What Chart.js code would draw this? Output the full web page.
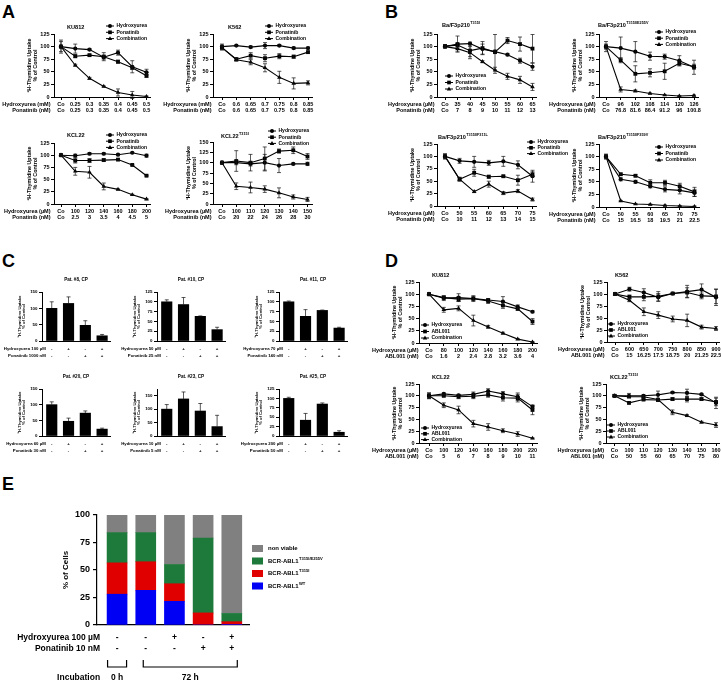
<!DOCTYPE html>
<html>
<head>
<meta charset="utf-8">
<script src="https://cdn.jsdelivr.net/npm/chart.js@4.4.0/dist/chart.umd.min.js"></script>
<style>
  html, body { margin: 0; padding: 0; background: #fff; overflow: hidden; }
  body { position: relative; width: 721px; height: 683px; }
  canvas { position: absolute; }
  .panel { position: absolute; font: bold 18px "Liberation Sans", Arial, sans-serif; line-height: 18px; }
</style>
</head>
<body>
<div class="panel" style="left:2px;top:3px">A</div>
<div class="panel" style="left:385px;top:3px">B</div>
<div class="panel" style="left:2px;top:252px">C</div>
<div class="panel" style="left:385px;top:252px">D</div>
<div class="panel" style="left:2px;top:475px">E</div>
<script>
// ---- A: hydroxyurea + ponatinib, cell lines
const a1Dose1 = ['Co', '0.25', '0.3', '0.35', '0.4', '0.45', '0.5'];
const a1Dose2 = ['Co', '0.25', '0.3', '0.35', '0.4', '0.45', '0.5'];
const a1Hu = [100, 96, 94, 79, 88, 60, 49];
const a1HuErr = [13, 9, 2, 4, 5, 12, 6];
const a1Pon = [100, 81, 83, 80, 70, 58, 42];
const a1PonErr = [10, 3, 2, 8, 3, 3, 3];
const a1Comb = [100, 63, 37, 21, 9, 4, 1];
const a1CombErr = [3, 2, 2, 1, 7, 7, 1];

const a2Dose1 = ['Co', '0.6', '0.65', '0.7', '0.75', '0.8', '0.85'];
const a2Dose2 = ['Co', '0.6', '0.65', '0.7', '0.75', '0.8', '0.85'];
const a2Hu = [100, 102, 99, 102, 102, 97, 97];
const a2HuErr = [5, 1, 2, 6, 2, 2, 2];
const a2Pon = [98, 75, 82, 77, 81, 80, 89];
const a2PonErr = [5, 3, 6, 7, 5, 3, 2];
const a2Comb = [98, 74, 69, 58, 39, 27, 28];
const a2CombErr = [3, 3, 5, 8, 12, 11, 4];

const a3Dose1 = ['Co', '100', '120', '140', '160', '180', '200'];
const a3Dose2 = ['Co', '2.5', '3', '3.5', '4', '4.5', '5'];
const a3Hu = [100, 99, 103, 103, 101, 105, 99];
const a3HuErr = [2, 3, 2, 2, 2, 1, 3];
const a3Pon = [100, 89, 89, 90, 91, 80, 58];
const a3PonErr = [2, 5, 4, 3, 2, 1, 1];
const a3Comb = [100, 67, 65, 36, 30, 19, 10];
const a3CombErr = [2, 8, 12, 7, 1, 1, 1];

const a4Dose1 = ['Co', '100', '110', '120', '130', '140', '150'];
const a4Dose2 = ['Co', '20', '22', '24', '26', '28', '30'];
const a4Hu = [100, 100, 97, 100, 93, 97, 97];
const a4HuErr = [3, 5, 5, 20, 17, 2, 4];
const a4Pon = [100, 104, 100, 110, 128, 130, 115];
const a4PonErr = [3, 25, 20, 28, 5, 8, 7];
const a4Comb = [100, 43, 40, 36, 27, 17, 11];
const a4CombErr = [3, 8, 13, 8, 12, 5, 5];

// ---- B: Ba/F3 mutants
const b1Dose1 = ['Co', '35', '40', '45', '50', '55', '60', '65'];
const b1Dose2 = ['Co', '7', '8', '9', '10', '11', '12', '13'];
const b1Hu = [100, 105, 106, 95, 90, 84, 72, 60];
const b1HuErr = [3, 16, 3, 10, 3, 2, 5, 7];
const b1Pon = [101, 103, 92, 97, 89, 112, 105, 96];
const b1PonErr = [3, 5, 12, 13, 35, 6, 14, 28];
const b1Comb = [100, 96, 88, 70, 53, 41, 34, 20];
const b1CombErr = [3, 5, 12, 2, 6, 6, 7, 7];

const b2Dose1 = ['Co', '96', '102', '108', '114', '120', '126'];
const b2Dose2 = ['Co', '76.8', '81.6', '86.4', '91.2', '96', '100.8'];
const b2Hu = [100, 97, 90, 81, 80, 72, 59];
const b2HuErr = [10, 22, 20, 8, 5, 10, 14];
const b2Pon = [100, 73, 46, 48, 51, 67, 60];
const b2PonErr = [5, 5, 16, 8, 16, 5, 5];
const b2Comb = [100, 15, 12, 7, 4, 2, 3];
const b2CombErr = [3, 5, 2, 1, 1, 1, 1];

const b3Dose1 = ['Co', '50', '55', '60', '65', '70', '75'];
const b3Dose2 = ['Co', '10', '11', '12', '13', '14', '15'];
const b3Hu = [100, 91, 89, 87, 90, 83, 60];
const b3HuErr = [5, 5, 11, 5, 10, 8, 12];
const b3Pon = [100, 54, 67, 59, 60, 52, 64];
const b3PonErr = [5, 4, 7, 3, 2, 10, 5];
const b3Comb = [100, 54, 29, 44, 26, 30, 13];
const b3CombErr = [3, 3, 2, 6, 3, 3, 3];

const b4Dose1 = ['Co', '50', '55', '60', '65', '70', '75'];
const b4Dose2 = ['Co', '15', '16.5', '18', '19.5', '21', '22.5'];
const b4Hu = [100, 55, 50, 41, 35, 33, 28];
const b4HuErr = [4, 3, 3, 3, 5, 7, 7];
const b4Pon = [100, 65, 62, 48, 48, 41, 30];
const b4PonErr = [5, 2, 2, 6, 5, 6, 9];
const b4Comb = [100, 12, 6, 5, 3, 2, 1];
const b4CombErr = [2, 1, 1, 1, 1, 1, 1];

// ---- C: patient cells, bars (-/-, +/-, -/+, +/+)
const cHuSign = ['-', '+', '-', '+'];
const cPonSign = ['-', '-', '+', '+'];
const c1Vals = [100, 115, 48, 16];
const c1Err = [20, 20, 14, 4];
const c2Vals = [100, 93, 63, 29];
const c2Err = [5, 18, 1, 6];
const c3Vals = [100, 63, 78, 33];
const c3Err = [2, 17, 1, 2];
const c4Vals = [100, 47, 73, 22];
const c4Err = [9, 10, 7, 3];
const c5Vals = [100, 138, 93, 35];
const c5Err = [17, 26, 28, 42];
const c6Vals = [100, 42, 85, 10];
const c6Err = [3, 18, 3, 4];

// ---- D: hydroxyurea + ABL001
const d1Dose1 = ['Co', '80', '100', '120', '140', '160', '180', '200'];
const d1Dose2 = ['Co', '1.6', '2', '2.4', '2.8', '3.2', '3.6', '4'];
const d1Hu = [100, 92, 93, 91, 88, 85, 74, 64];
const d1HuErr = [3, 5, 8, 6, 3, 10, 4, 2];
const d1Abl = [100, 93, 90, 91, 86, 77, 70, 44];
const d1AblErr = [2, 3, 5, 4, 5, 6, 3, 6];
const d1Comb = [100, 68, 71, 46, 33, 20, 8, 2];
const d1CombErr = [2, 5, 5, 11, 3, 2, 1, 1];

const d2Dose1 = ['Co', '600', '650', '700', '750', '800', '850', '900'];
const d2Dose2 = ['Co', '15', '16.25', '17.5', '18.75', '20', '21.25', '22.5'];
const d2Hu = [100, 110, 103, 93, 101, 105, 109, 93];
const d2HuErr = [2, 4, 8, 8, 2, 13, 12, 17];
const d2Abl = [100, 94, 94, 95, 101, 103, 96, 95];
const d2AblErr = [2, 4, 8, 10, 2, 10, 6, 15];
const d2Comb = [100, 87, 63, 56, 48, 45, 31, 28];
const d2CombErr = [2, 3, 8, 7, 6, 13, 4, 4];

const d3Dose1 = ['Co', '100', '120', '140', '160', '180', '200', '220'];
const d3Dose2 = ['Co', '5', '6', '7', '8', '9', '10', '11'];
const d3Hu = [100, 104, 101, 103, 110, 104, 98, 77];
const d3HuErr = [6, 2, 2, 5, 5, 5, 8, 3];
const d3Abl = [100, 100, 98, 99, 102, 96, 95, 70];
const d3AblErr = [6, 2, 4, 5, 5, 7, 8, 10];
const d3Comb = [100, 80, 70, 41, 34, 26, 19, 10];
const d3CombErr = [4, 5, 8, 7, 7, 4, 5, 1];

const d4Dose1 = ['Co', '100', '110', '120', '130', '140', '150', '160'];
const d4Dose2 = ['Co', '50', '55', '60', '65', '70', '75', '80'];
const d4Hu = [100, 100, 100, 102, 107, 106, 103, 85];
const d4HuErr = [2, 5, 2, 8, 2, 8, 2, 12];
const d4Abl = [100, 85, 92, 91, 93, 93, 93, 87];
const d4AblErr = [2, 2, 2, 3, 3, 6, 3, 8];
const d4Comb = [100, 98, 98, 92, 65, 58, 44, 38];
const d4CombErr = [2, 2, 2, 3, 5, 2, 2, 5];

// ---- E: clone composition, % of cells
const eHuSign = ['-', '-', '+', '-', '+'];
const ePonSign = ['-', '-', '-', '+', '+'];
const eWT = [28, 31.5, 21.5, 0, 0.5];
const eT315I = [28.5, 26, 16, 11, 2.5];
const eE255V = [27.5, 26.5, 17.5, 68, 7.5];
const eNonViable = [16, 16, 45, 21, 89.5];

const FONT = '"Liberation Sans", Arial, sans-serif';
const f = (size, lh) => ({ family: FONT, size: size, weight: 'bold', lineHeight: lh || 1.2 });
Chart.defaults.color = '#000';
Chart.defaults.font.family = FONT;

function makeCanvas(l, t, r, b, pad) {
  const c = document.createElement('canvas');
  const w = Math.round(r - l + pad[0] + pad[2]), h = Math.round(b - t + pad[1] + pad[3]);
  c.width = w; c.height = h;
  c.style.width = w + 'px'; c.style.height = h + 'px';
  c.style.left = (l - pad[0]) + 'px';
  c.style.top = (t - pad[1]) + 'px';
  document.body.appendChild(c);
  return c;
}

function textSup(ctx, x, y, main, sup, size, align) {
  const big = 'bold ' + size + 'px ' + FONT;
  const small = 'bold ' + (size * 0.68).toFixed(2) + 'px ' + FONT;
  ctx.font = big;
  const w1 = ctx.measureText(main).width;
  ctx.font = small;
  const w2 = sup ? ctx.measureText(sup).width : 0;
  let x0 = x;
  if (align === 'center') x0 = x - (w1 + w2) / 2;
  if (align === 'right') x0 = x - w1 - w2;
  ctx.textAlign = 'left';
  ctx.textBaseline = 'middle';
  ctx.font = big;
  ctx.fillText(main, x0, y);
  if (sup) {
    ctx.font = small;
    ctx.fillText(sup, x0 + w1 + 0.3, y - size * 0.38);
  }
}

function drawShape(ctx, shape, x, y, r) {
  ctx.beginPath();
  if (shape === 'circle') ctx.arc(x, y, r, 0, Math.PI * 2);
  else if (shape === 'rect') ctx.rect(x - r * 0.72, y - r * 0.72, r * 1.44, r * 1.44);
  else { ctx.moveTo(x, y - r); ctx.lineTo(x + r * 0.9, y + r * 0.6); ctx.lineTo(x - r * 0.9, y + r * 0.6); ctx.closePath(); }
  ctx.fill();
}

// vertical error bars read from the dataset values
function errorBars(errs, upOnly) {
  return {
    id: 'errbars',
    afterDatasetsDraw(chart) {
      const ctx = chart.ctx, ys = chart.scales.y;
      ctx.save();
      ctx.strokeStyle = '#111';
      ctx.lineWidth = 0.7;
      chart.data.datasets.forEach((ds, i) => {
        const meta = chart.getDatasetMeta(i);
        ds.data.forEach((p, j) => {
          const e = errs[i][j];
          if (!e) return;
          const x = meta.data[j].x;
          const y1 = ys.getPixelForValue(p.y + e);
          const y2 = upOnly ? ys.getPixelForValue(p.y) : ys.getPixelForValue(p.y - e);
          ctx.beginPath();
          ctx.moveTo(x, y1); ctx.lineTo(x, y2);
          ctx.moveTo(x - 2, y1); ctx.lineTo(x + 2, y1);
          if (!upOnly) { ctx.moveTo(x - 2, y2); ctx.lineTo(x + 2, y2); }
          ctx.stroke();
        });
      });
      ctx.restore();
    }
  };
}

const shapes = ['circle', 'rect', 'triangle'];
const radii = [2.1, 2.7, 2.6];

function lineChart(o) {
  const [l, t, r, b] = o.box;
  const pad = [80, 26, 50, 22];
  const yW = 28, xH = 18;
  const canvas = makeCanvas(l, t, r, b, pad);
  const ox = l - pad[0], oy = t - pad[1];
  const n = o.rows[0].length;
  const unit = (o.xN - o.x0) / (n - 1);
  const datasets = o.sets.map((s, i) => ({
    label: o.names[i],
    data: s.map((v, j) => ({ x: j, y: v })),
    borderColor: '#000',
    borderWidth: 1.1,
    pointStyle: shapes[i],
    pointRadius: radii[i],
    pointBackgroundColor: '#000',
    pointBorderColor: '#000',
    pointBorderWidth: 0,
    tension: 0,
    clip: false
  }));
  const overlay = {
    id: 'overlay',
    afterDraw(chart) {
      const ctx = chart.ctx, area = chart.chartArea;
      ctx.save();
      ctx.fillStyle = '#000';
      ctx.strokeStyle = '#000';
      textSup(ctx, o.title[2] - ox, o.title[3] - oy, o.title[0], o.title[1], 5.6, 'left');
      ctx.font = 'bold 5.5px ' + FONT;
      ctx.textAlign = 'right';
      ctx.textBaseline = 'middle';
      const rx = chart.scales.x.getPixelForValue(0) - 10.5;
      o.rowNames.forEach((name, i) => ctx.fillText(name, rx, area.bottom + 7.3 + i * 6.6));
      const [lx, ly, step] = o.legend;
      o.names.forEach((name, i) => {
        const x = lx - ox, y = ly + i * step - oy;
        ctx.lineWidth = 1;
        ctx.beginPath(); ctx.moveTo(x, y); ctx.lineTo(x + 8, y); ctx.stroke();
        drawShape(ctx, shapes[i], x + 4, y, radii[i] * 0.95);
        ctx.font = 'bold 5px ' + FONT;
        ctx.textAlign = 'left';
        ctx.fillText(name, x + 10.5, y);
      });
      ctx.restore();
    }
  };
  new Chart(canvas, {
    type: 'line',
    data: { datasets: datasets },
    options: {
      responsive: false,
      animation: false,
      devicePixelRatio: 1,
      layout: { autoPadding: false, padding: { left: pad[0] - yW, top: pad[1], right: pad[2], bottom: pad[3] - xH } },
      plugins: { legend: { display: false }, tooltip: { enabled: false } },
      scales: {
        x: {
          type: 'linear',
          offset: false,
          min: -(o.x0 - l) / unit,
          max: n - 1 + (r - o.xN) / unit,
          afterBuildTicks: s => { s.ticks = o.rows[0].map((_, i) => ({ value: i })); },
          afterFit: s => { s.height = xH; },
          ticks: { autoSkip: false, maxRotation: 0, padding: 1, font: f(5.5), callback: v => [o.rows[0][v], o.rows[1][v]] },
          grid: { drawOnChartArea: false, drawTicks: true, tickLength: 3, color: '#000', lineWidth: 1 },
          border: { color: '#000', width: 1 }
        },
        y: {
          min: 0,
          max: o.yMax,
          afterFit: s => { s.width = yW; },
          ticks: { stepSize: 25, padding: 1.5, font: f(5.5) },
          grid: { drawOnChartArea: false, drawTicks: true, tickLength: 3, color: '#000', lineWidth: 1 },
          border: { color: '#000', width: 1 },
          title: { display: true, text: ['\u00b3H-Thymidine Uptake', '% of Control'], font: f(5.4, 1.15), padding: 0 }
        }
      }
    },
    plugins: [errorBars(o.errs, false), overlay]
  });
}

function barChart(o) {
  const [l, t, r, b] = o.box;
  const pad = [62, 18, 6, 22];
  const yW = 25, xH = 18;
  const canvas = makeCanvas(l, t, r, b, pad);
  const overlay = {
    id: 'overlay',
    afterDraw(chart) {
      const ctx = chart.ctx, area = chart.chartArea;
      ctx.save();
      ctx.fillStyle = '#000';
      textSup(ctx, (area.left + area.right) / 2, area.top - 12, o.title, '', 4.6, 'center');
      ctx.font = 'bold 4.3px ' + FONT;
      ctx.textAlign = 'right';
      ctx.textBaseline = 'middle';
      const rx = chart.scales.x.getPixelForValue(0) - 6;
      o.rowNames.forEach((name, i) => ctx.fillText(name, rx, area.bottom + 7.8 + i * 6.6));
      ctx.restore();
    }
  };
  new Chart(canvas, {
    type: 'bar',
    data: { datasets: [{ data: o.vals.map((v, j) => ({ x: j, y: v })), backgroundColor: '#000', barThickness: 10.5 }] },
    options: {
      responsive: false,
      animation: false,
      devicePixelRatio: 1,
      layout: { autoPadding: false, padding: { left: pad[0] - yW, top: pad[1], right: pad[2], bottom: pad[3] - xH } },
      plugins: { legend: { display: false }, tooltip: { enabled: false } },
      scales: {
        x: {
          type: 'linear',
          offset: false,
          min: -0.58,
          max: 3.47,
          afterBuildTicks: s => { s.ticks = o.vals.map((_, i) => ({ value: i })); },
          afterFit: s => { s.height = xH; },
          ticks: { autoSkip: false, maxRotation: 0, padding: 4.5, font: f(4.4, 1.5), callback: v => [cHuSign[v], cPonSign[v]] },
          grid: { display: false, drawTicks: false },
          border: { color: '#000', width: 1 }
        },
        y: {
          min: 0,
          max: o.yMax,
          afterFit: s => { s.width = yW; },
          ticks: { stepSize: 25, padding: 1.5, font: f(4.4) },
          grid: { drawOnChartArea: false, drawTicks: true, tickLength: 3, color: '#000', lineWidth: 1 },
          border: { color: '#000', width: 1 },
          title: { display: true, text: ['\u00b3H-Thymidine Uptake', '% of Control'], font: f(4.2, 1.15), padding: 0 }
        }
      }
    },
    plugins: [errorBars([o.err], true), overlay]
  });
}

const huPon = ['Hydroxyurea', 'Ponatinib', 'Combination'];
const huAbl = ['Hydroxyurea', 'ABL001', 'Combination'];

// A
lineChart({ box: [54, 34, 150, 97], x0: 61, xN: 146.5, yMax: 125, rows: [a1Dose1, a1Dose2], rowNames: ['Hydroxyurea (mM)', 'Ponatinib (nM)'], names: huPon,
  sets: [a1Hu, a1Pon, a1Comb], errs: [a1HuErr, a1PonErr, a1CombErr], title: ['KU812', '', 67, 27], legend: [106, 26, 6.3] });
lineChart({ box: [213, 34, 312, 97], x0: 222, xN: 308, yMax: 125, rows: [a2Dose1, a2Dose2], rowNames: ['Hydroxyurea (mM)', 'Ponatinib (nM)'], names: huPon,
  sets: [a2Hu, a2Pon, a2Comb], errs: [a2HuErr, a2PonErr, a2CombErr], title: ['K562', '', 228, 27], legend: [265, 26, 6.3] });
lineChart({ box: [54, 143, 150, 204], x0: 61, xN: 146.5, yMax: 125, rows: [a3Dose1, a3Dose2], rowNames: ['Hydroxyurea (\u00b5M)', 'Ponatinib (nM)'], names: huPon,
  sets: [a3Hu, a3Pon, a3Comb], errs: [a3HuErr, a3PonErr, a3CombErr], title: ['KCL22', '', 67, 135], legend: [106, 135, 6.2] });
lineChart({ box: [213, 142, 312, 204], x0: 222, xN: 307.5, yMax: 150, rows: [a4Dose1, a4Dose2], rowNames: ['Hydroxyurea (\u00b5M)', 'Ponatinib (nM)'], names: huPon,
  sets: [a4Hu, a4Pon, a4Comb], errs: [a4HuErr, a4PonErr, a4CombErr], title: ['KCL22', 'T315I', 221, 136], legend: [268, 131, 6.2] });

// B
lineChart({ box: [437, 34, 536, 97], x0: 445, xN: 532.5, yMax: 125, rows: [b1Dose1, b1Dose2], rowNames: ['Hydroxyurea (\u00b5M)', 'Ponatinib (nM)'], names: huPon,
  sets: [b1Hu, b1Pon, b1Comb], errs: [b1HuErr, b1PonErr, b1CombErr], title: ['Ba/F3p210', 'T315I', 442, 25], legend: [445, 76, 6.5] });
lineChart({ box: [599, 34, 698, 97], x0: 606, xN: 694, yMax: 125, rows: [b2Dose1, b2Dose2], rowNames: ['Hydroxyurea (\u00b5M)', 'Ponatinib (nM)'], names: huPon,
  sets: [b2Hu, b2Pon, b2Comb], errs: [b2HuErr, b2PonErr, b2CombErr], title: ['Ba/F3p210', 'T315I/E255V', 598, 25], legend: [655, 32, 6.2] });
lineChart({ box: [437, 144, 536, 206], x0: 445, xN: 532.5, yMax: 125, rows: [b3Dose1, b3Dose2], rowNames: ['Hydroxyurea (\u00b5M)', 'Ponatinib (nM)'], names: huPon,
  sets: [b3Hu, b3Pon, b3Comb], errs: [b3HuErr, b3PonErr, b3CombErr], title: ['Ba/F3p210', 'T315I/F311L', 438, 137], legend: [527, 142, 5.8] });
lineChart({ box: [599, 144, 699, 207], x0: 606, xN: 694.5, yMax: 125, rows: [b4Dose1, b4Dose2], rowNames: ['Hydroxyurea (\u00b5M)', 'Ponatinib (nM)'], names: huPon,
  sets: [b4Hu, b4Pon, b4Comb], errs: [b4HuErr, b4PonErr, b4CombErr], title: ['Ba/F3p210', 'T315I/F359V', 598, 137], legend: [655, 147, 6.5] });

// C
barChart({ box: [42, 292, 110, 341], yMax: 150, vals: c1Vals, err: c1Err, title: 'Pat. #8, CP', rowNames: ['Hydroxyurea 100 \u00b5M', 'Ponatinib 1000 nM'] });
barChart({ box: [157, 292, 225, 341], yMax: 125, vals: c2Vals, err: c2Err, title: 'Pat. #10, CP', rowNames: ['Hydroxyurea 50 \u00b5M', 'Ponatinib 25 nM'] });
barChart({ box: [279, 292, 347, 341], yMax: 125, vals: c3Vals, err: c3Err, title: 'Pat. #11, CP', rowNames: ['Hydroxyurea 70 \u00b5M', 'Ponatinib 140 nM'] });
barChart({ box: [42, 389, 110, 436], yMax: 150, vals: c4Vals, err: c4Err, title: 'Pat. #20, CP', rowNames: ['Hydroxyurea 60 \u00b5M', 'Ponatinib 30 nM'] });
barChart({ box: [157, 389, 225, 436], yMax: 175, vals: c5Vals, err: c5Err, title: 'Pat. #23, CP', rowNames: ['Hydroxyurea 10 \u00b5M', 'Ponatinib 5 nM'] });
barChart({ box: [279, 389, 347, 436], yMax: 125, vals: c6Vals, err: c6Err, title: 'Pat. #25, CP', rowNames: ['Hydroxyurea 200 \u00b5M', 'Ponatinib 50 nM'] });

// D
lineChart({ box: [419, 282, 537, 342.5], x0: 429, xN: 532.5, yMax: 125, rows: [d1Dose1, d1Dose2], rowNames: ['Hydroxyurea (\u00b5M)', 'ABL001 (nM)'], names: huAbl,
  sets: [d1Hu, d1Abl, d1Comb], errs: [d1HuErr, d1AblErr, d1CombErr], title: ['KU812', '', 432, 275], legend: [421, 325, 6.5] });
lineChart({ box: [607, 282, 719, 342], x0: 615, xN: 716, yMax: 125, rows: [d2Dose1, d2Dose2], rowNames: ['Hydroxyurea (\u00b5M)', 'ABL001 (nM)'], names: huAbl,
  sets: [d2Hu, d2Abl, d2Comb], errs: [d2HuErr, d2AblErr, d2CombErr], title: ['K562', '', 615, 275], legend: [607, 324, 6] });
lineChart({ box: [419, 384, 537, 443], x0: 429, xN: 532.5, yMax: 125, rows: [d3Dose1, d3Dose2], rowNames: ['Hydroxyurea (\u00b5M)', 'ABL001 (nM)'], names: huAbl,
  sets: [d3Hu, d3Abl, d3Comb], errs: [d3HuErr, d3AblErr, d3CombErr], title: ['KCL22', '', 432, 377], legend: [421, 428, 5.8] });
lineChart({ box: [606, 384, 719, 443], x0: 614.5, xN: 716, yMax: 125, rows: [d4Dose1, d4Dose2], rowNames: ['Hydroxyurea (\u00b5M)', 'ABL001 (nM)'], names: huAbl,
  sets: [d4Hu, d4Abl, d4Comb], errs: [d4HuErr, d4AblErr, d4CombErr], title: ['KCL22', 'T315I', 610, 377], legend: [607, 425, 6] });

// E - stacked composition
(function () {
  const l = 97, t = 515, r = 249, b = 625;
  const pad = [100, 20, 120, 60];
  const yW = 36, xH = 30;
  const canvas = makeCanvas(l, t, r, b, pad);
  const legendItems = [
    ['non viable', '', '#808080'],
    ['BCR-ABL1', 'T315I/E255V', '#1e7a3b'],
    ['BCR-ABL1', 'T315I', '#e00000'],
    ['BCR-ABL1', 'WT', '#0000f5']
  ];
  const overlay = {
    id: 'overlay',
    afterDraw(chart) {
      const ctx = chart.ctx, area = chart.chartArea, xs = chart.scales.x;
      ctx.save();
      ctx.fillStyle = '#000';
      ctx.strokeStyle = '#000';
      ctx.font = 'bold 8.5px ' + FONT;
      ctx.textAlign = 'right';
      ctx.textBaseline = 'middle';
      const rx = xs.getPixelForValue(0) - 17;
      ctx.fillText('Hydroxyurea 100 \u00b5M', rx, area.bottom + 13);
      ctx.fillText('Ponatinib 10 nM', rx, area.bottom + 24);
      // incubation brackets
      const by = area.bottom + 35, bh = 7;
      ctx.lineWidth = 1.2;
      const br = (x1, x2) => {
        ctx.beginPath();
        ctx.moveTo(x1, by); ctx.lineTo(x1, by + bh); ctx.lineTo(x2, by + bh); ctx.lineTo(x2, by);
        ctx.stroke();
      };
      const x0a = xs.getPixelForValue(0) - 9.5, x0b = xs.getPixelForValue(0) + 9.5;
      const x1a = xs.getPixelForValue(1) - 2.5, x1b = xs.getPixelForValue(4) + 5.5;
      br(x0a, x0b);
      br(x1a, x1b);
      const ty = area.bottom + 53;
      ctx.fillText('Incubation', rx, ty);
      ctx.textAlign = 'center';
      ctx.fillText('0 h', (x0a + x0b) / 2, ty);
      ctx.fillText('72 h', (x1a + x1b) / 2, ty);
      // legend
      legendItems.forEach((it, i) => {
        const x = area.right + 3, y = area.top + 33.5 + i * 12.5;
        ctx.fillStyle = it[2];
        ctx.fillRect(x, y - 3.5, 11, 7);
        ctx.fillStyle = '#000';
        textSup(ctx, x + 16, y, it[0], it[1], 6, 'left');
      });
      ctx.restore();
    }
  };
  const series = [eWT, eT315I, eE255V, eNonViable];
  const colors = ['#0000f5', '#e00000', '#1e7a3b', '#808080'];
  new Chart(canvas, {
    type: 'bar',
    data: {
      datasets: series.map((s, i) => ({
        data: s.map((v, j) => ({ x: j, y: v })),
        backgroundColor: colors[i],
        borderWidth: 0,
        barThickness: 20
      }))
    },
    options: {
      responsive: false,
      animation: false,
      devicePixelRatio: 1,
      layout: { autoPadding: false, padding: { left: pad[0] - yW, top: pad[1], right: pad[2], bottom: pad[3] - xH } },
      plugins: { legend: { display: false }, tooltip: { enabled: false } },
      scales: {
        x: {
          type: 'linear',
          stacked: true,
          offset: false,
          min: -0.7,
          max: 4.6,
          afterBuildTicks: s => { s.ticks = eHuSign.map((_, i) => ({ value: i })); },
          afterFit: s => { s.height = xH; },
          ticks: { autoSkip: false, maxRotation: 0, padding: 7.5, font: f(8.5, 1.3), callback: v => [eHuSign[v], ePonSign[v]] },
          grid: { display: false, drawTicks: false },
          border: { color: '#000', width: 1.2 }
        },
        y: {
          stacked: true,
          min: 0,
          max: 100,
          afterFit: s => { s.width = yW; },
          ticks: { stepSize: 25, padding: 3, font: f(9) },
          grid: { drawOnChartArea: false, drawTicks: true, tickLength: 4, color: '#000', lineWidth: 1.2 },
          border: { color: '#000', width: 1.2 },
          title: { display: true, text: '% of Cells', font: f(8), padding: 0 }
        }
      }
    },
    plugins: [overlay]
  });
})();
</script>
</body>
</html>
